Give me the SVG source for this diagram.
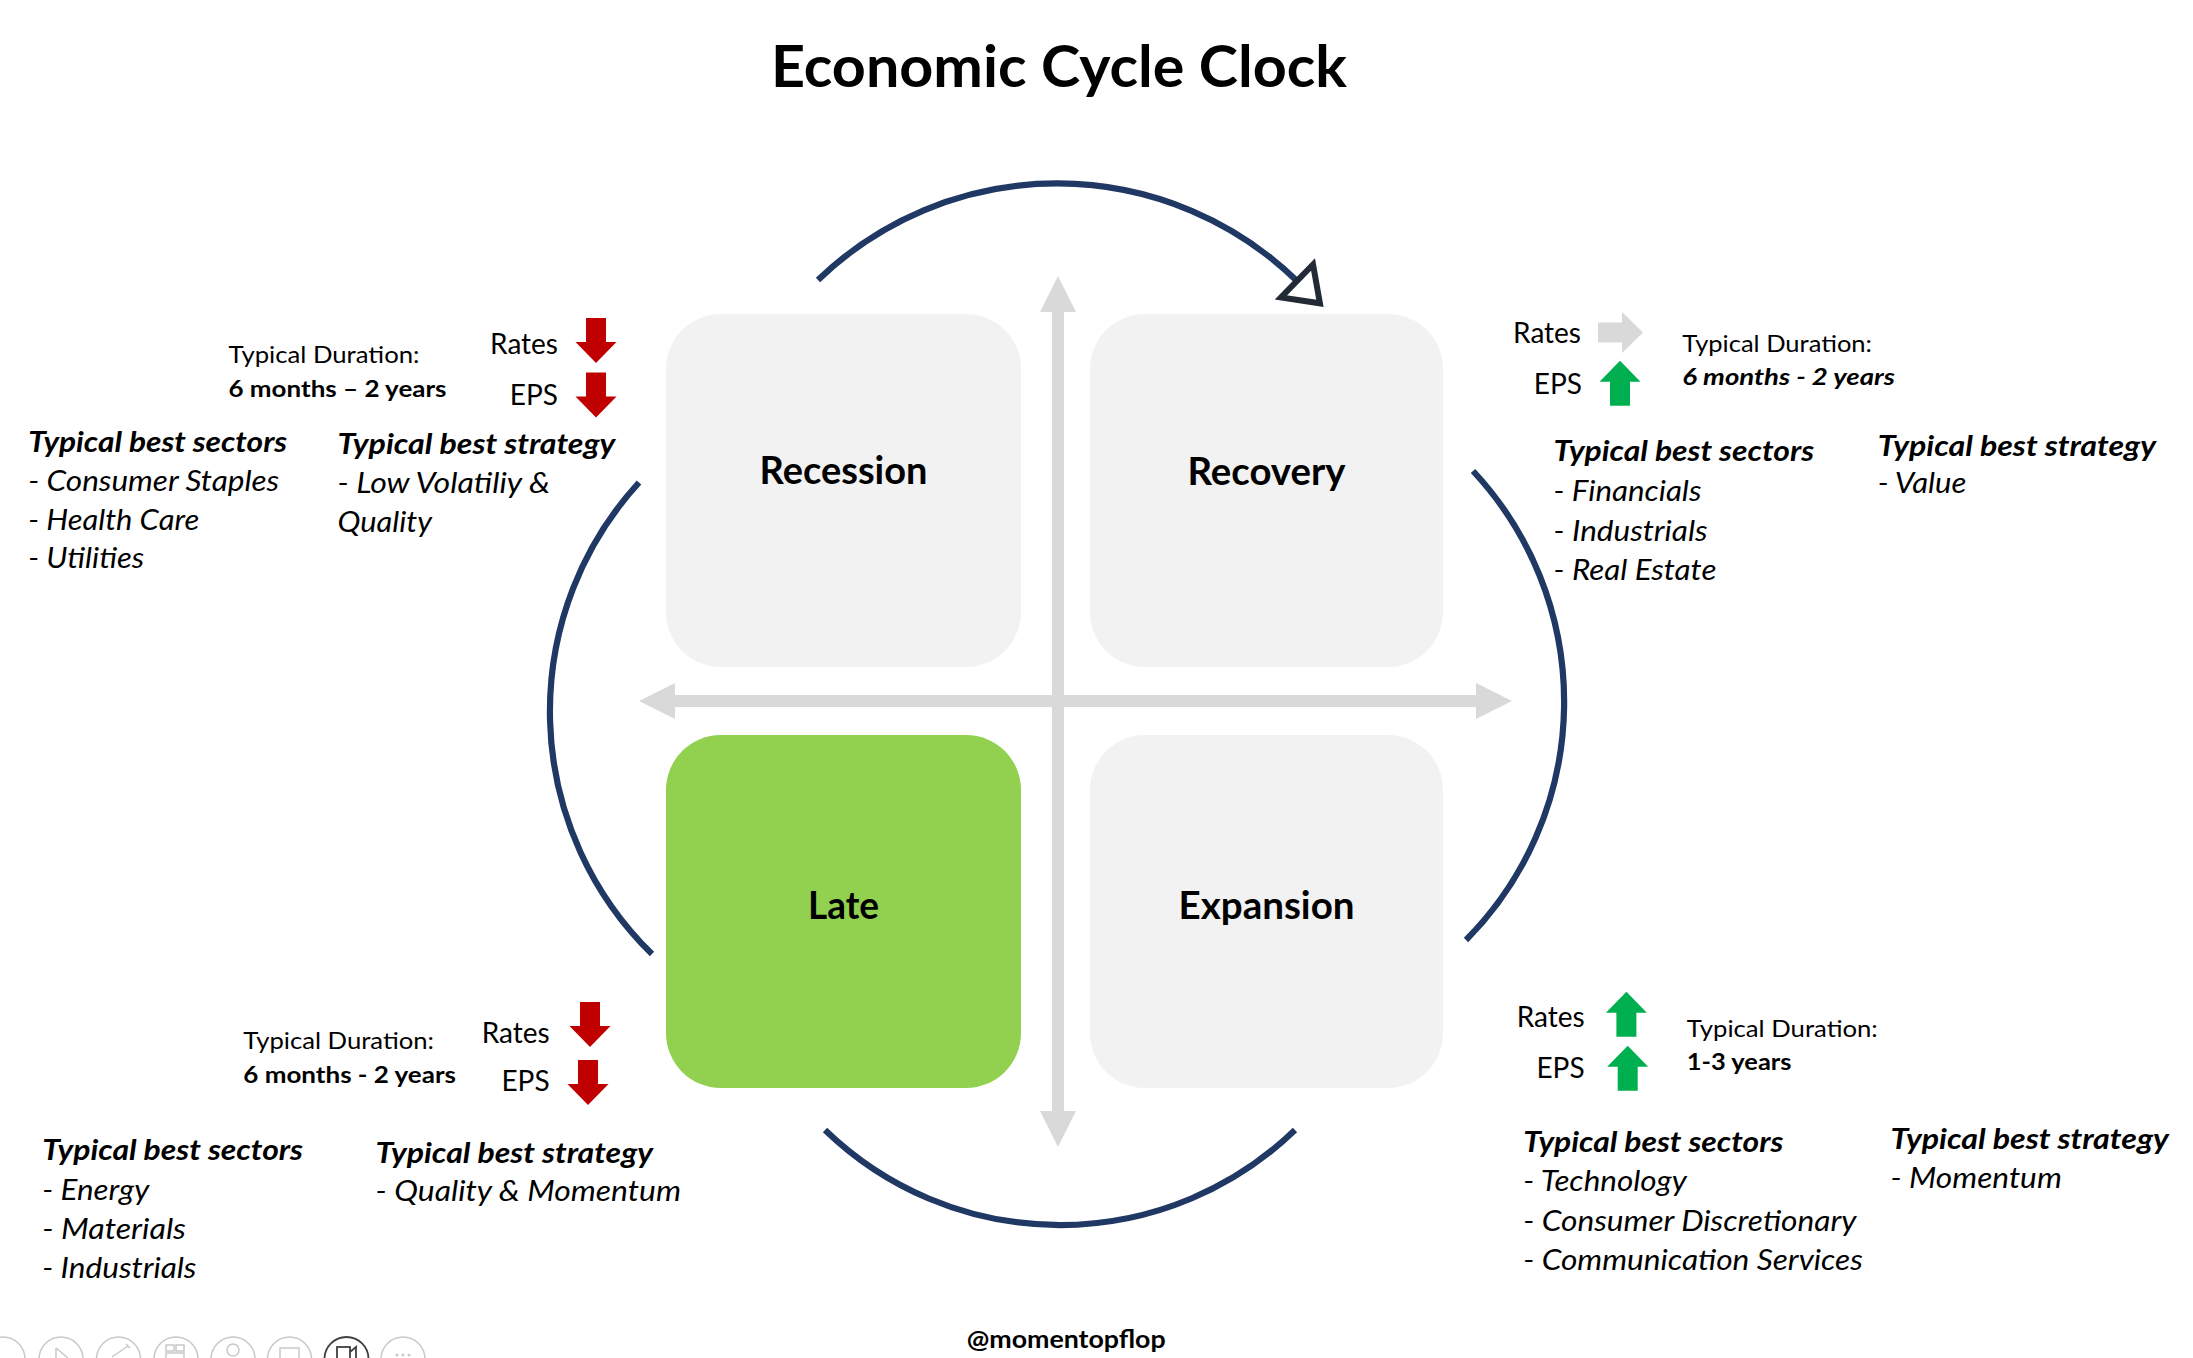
<svg xmlns="http://www.w3.org/2000/svg" xmlns:xlink="http://www.w3.org/1999/xlink" width="2193" height="1358" viewBox="0 0 2193 1358">
<style>
  text { font-family: Lato, "Liberation Sans", sans-serif; fill: #000; }
  .title { font-size: 57px; font-weight: 700; }
  .phase { font-size: 39px; font-weight: 700; text-anchor: middle; }
  .hdr { font-size: 28px; font-weight: 700; font-style: italic; }
  .item { font-size: 28px; font-style: italic; }
  .ind { font-size: 28px; text-anchor: end; }
  .dur { font-size: 23.5px; }
  .durv { font-size: 23.5px; font-weight: 700; }
  .durvi { font-size: 23.5px; font-weight: 700; font-style: italic; }
  .wm { font-size: 25px; font-weight: 700; }
  .box { fill: #F2F2F2; }
  .box.late { fill: #92D050; }
  .arc { fill: none; stroke: #203864; stroke-width: 6.2; }
  .axis { fill: none; stroke: #D9D9D9; stroke-width: 12; }
  .red { fill: #C00000; }
  .green { fill: #00B050; }
  .grey { fill: #D9D9D9; }
  .tb { fill: #FFFFFF; stroke: #C8C8C8; stroke-width: 1.5; }
  .tbi { fill: none; stroke: #C8C8C8; stroke-width: 1.5; }
</style>
<defs>
  <path id="blockArrow" d="M-10,0 H10 V24 H20.5 L0,45 L-20.5,24 H-10 Z"/>
  <marker id="openTri" markerUnits="userSpaceOnUse" viewBox="-10 -40 80 80" markerWidth="80" markerHeight="80" refX="0" refY="0" orient="auto" overflow="visible">
    <path d="M0,-23 L32,0 L0,23 Z" fill="#FFFFFF" stroke="#222A35" stroke-width="6" stroke-linejoin="miter"/>
  </marker>
  <marker id="axisHead" markerUnits="userSpaceOnUse" viewBox="-2 -20 42 40" markerWidth="42" markerHeight="40" refX="0" refY="0" orient="auto-start-reverse" overflow="visible">
    <path d="M-1,-18 L35,0 L-1,18 Z" fill="#D9D9D9"/>
  </marker>
</defs>
<rect x="0" y="0" width="2193" height="1358" fill="#FFFFFF"/>

<text class="title" x="771" y="87" textLength="576" lengthAdjust="spacingAndGlyphs">Economic Cycle Clock</text>

<g id="connectors">
  <path class="axis" d="M1058,311 L1058,1112" marker-start="url(#axisHead)" marker-end="url(#axisHead)"/>
  <path class="axis" d="M674,701 L1477,701" marker-start="url(#axisHead)" marker-end="url(#axisHead)"/>
  <path class="arc" d="M818,280 A344,344 0 0 1 1297,281" marker-end="url(#openTri)"/>
  <path class="arc" d="M1473,471 A338,338 0 0 1 1466,940"/>
  <path class="arc" d="M1295,1130 A338,338 0 0 1 825,1130"/>
  <path class="arc" d="M652,954 A339,339 0 0 1 639,482.5"/>
</g>

<g id="recession">
  <rect class="box" x="666" y="314" width="355" height="353" rx="55" ry="55"/>
  <text class="phase" x="843.5" y="484" textLength="168" lengthAdjust="spacingAndGlyphs">Recession</text>
</g>
<g id="recovery">
  <rect class="box" x="1090" y="314" width="353" height="353" rx="55" ry="55"/>
  <text class="phase" x="1266.5" y="485" textLength="158" lengthAdjust="spacingAndGlyphs">Recovery</text>
</g>
<g id="late">
  <rect class="box late" x="666" y="735" width="355" height="353" rx="55" ry="55"/>
  <text class="phase" x="843.5" y="919" textLength="71" lengthAdjust="spacingAndGlyphs">Late</text>
</g>
<g id="expansion">
  <rect class="box" x="1090" y="735" width="353" height="353" rx="55" ry="55"/>
  <text class="phase" x="1266.5" y="919" textLength="176" lengthAdjust="spacingAndGlyphs">Expansion</text>
</g>

<g id="recession-info">
  <text class="dur" x="228.5" y="363.3" textLength="191" lengthAdjust="spacingAndGlyphs">Typical Duration:</text>
  <text class="durv" x="228.5" y="397.3" textLength="218" lengthAdjust="spacingAndGlyphs">6 months – 2 years</text>
  <text class="ind" x="558" y="354.3">Rates</text>
  <text class="ind" x="558" y="405">EPS</text>
  <use xlink:href="#blockArrow" href="#blockArrow" class="red" transform="translate(596,318)"/>
  <use xlink:href="#blockArrow" href="#blockArrow" class="red" transform="translate(596,372.5)"/>
  <text class="hdr" x="28.2" y="451.7" textLength="259" lengthAdjust="spacingAndGlyphs">Typical best sectors</text>
  <text class="item" x="28.2" y="490.7" textLength="251" lengthAdjust="spacingAndGlyphs">- Consumer Staples</text>
  <text class="item" x="28.2" y="530" textLength="171" lengthAdjust="spacingAndGlyphs">- Health Care</text>
  <text class="item" x="28.2" y="568.3" textLength="116" lengthAdjust="spacingAndGlyphs">- Utilities</text>
  <text class="hdr" x="337.4" y="454" textLength="278" lengthAdjust="spacingAndGlyphs">Typical best strategy</text>
  <text class="item" x="337.4" y="492.7" textLength="212.6" lengthAdjust="spacingAndGlyphs">- Low Volatiliy &amp;</text>
  <text class="item" x="337.4" y="531.7" textLength="94.6" lengthAdjust="spacingAndGlyphs">Quality</text>
</g>

<g id="recovery-info">
  <text class="ind" x="1581" y="343.3">Rates</text>
  <text class="ind" x="1582" y="394">EPS</text>
  <use xlink:href="#blockArrow" href="#blockArrow" class="grey" transform="translate(1598,332.5) rotate(-90)"/>
  <use xlink:href="#blockArrow" href="#blockArrow" class="green" transform="translate(1620,405.7) rotate(180)"/>
  <text class="dur" x="1682.3" y="351.7" textLength="189.7" lengthAdjust="spacingAndGlyphs">Typical Duration:</text>
  <text class="durvi" x="1682.3" y="385" textLength="212.7" lengthAdjust="spacingAndGlyphs">6 months - 2 years</text>
  <text class="hdr" x="1553.6" y="460.7" textLength="260.5" lengthAdjust="spacingAndGlyphs">Typical best sectors</text>
  <text class="item" x="1553.6" y="500.7" textLength="147.8" lengthAdjust="spacingAndGlyphs">- Financials</text>
  <text class="item" x="1553.6" y="540.7" textLength="154" lengthAdjust="spacingAndGlyphs">- Industrials</text>
  <text class="item" x="1553.6" y="580" textLength="162.8" lengthAdjust="spacingAndGlyphs">- Real Estate</text>
  <text class="hdr" x="1877.7" y="456" textLength="278.3" lengthAdjust="spacingAndGlyphs">Typical best strategy</text>
  <text class="item" x="1877.7" y="493.3" textLength="88.7" lengthAdjust="spacingAndGlyphs">- Value</text>
</g>

<g id="late-info">
  <text class="dur" x="243.3" y="1049.3" textLength="190.7" lengthAdjust="spacingAndGlyphs">Typical Duration:</text>
  <text class="durv" x="243.3" y="1083.3" textLength="212.7" lengthAdjust="spacingAndGlyphs">6 months - 2 years</text>
  <text class="ind" x="549.6" y="1042.7">Rates</text>
  <text class="ind" x="549.6" y="1091">EPS</text>
  <use xlink:href="#blockArrow" href="#blockArrow" class="red" transform="translate(590,1002)"/>
  <use xlink:href="#blockArrow" href="#blockArrow" class="red" transform="translate(588,1060)"/>
  <text class="hdr" x="42.2" y="1160" textLength="260.8" lengthAdjust="spacingAndGlyphs">Typical best sectors</text>
  <text class="item" x="42.2" y="1200" textLength="107" lengthAdjust="spacingAndGlyphs">- Energy</text>
  <text class="item" x="42.2" y="1239.3" textLength="143.8" lengthAdjust="spacingAndGlyphs">- Materials</text>
  <text class="item" x="42.2" y="1277.7" textLength="154.3" lengthAdjust="spacingAndGlyphs">- Industrials</text>
  <text class="hdr" x="375.6" y="1162.7" textLength="277.4" lengthAdjust="spacingAndGlyphs">Typical best strategy</text>
  <text class="item" x="375.6" y="1200.7" textLength="305.4" lengthAdjust="spacingAndGlyphs">- Quality &amp; Momentum</text>
</g>

<g id="expansion-info">
  <text class="ind" x="1584.6" y="1027.3">Rates</text>
  <text class="ind" x="1584.6" y="1077.7">EPS</text>
  <use xlink:href="#blockArrow" href="#blockArrow" class="green" transform="translate(1626.4,1036.7) rotate(180)"/>
  <use xlink:href="#blockArrow" href="#blockArrow" class="green" transform="translate(1627.7,1090.7) rotate(180)"/>
  <text class="dur" x="1686.8" y="1036.7" textLength="191" lengthAdjust="spacingAndGlyphs">Typical Duration:</text>
  <text class="durv" x="1686.8" y="1070" textLength="104.6" lengthAdjust="spacingAndGlyphs">1-3 years</text>
  <text class="hdr" x="1523.2" y="1151.7" textLength="260.1" lengthAdjust="spacingAndGlyphs">Typical best sectors</text>
  <text class="item" x="1523.2" y="1190.7" textLength="163.6" lengthAdjust="spacingAndGlyphs">- Technology</text>
  <text class="item" x="1523.2" y="1230.7" textLength="333.2" lengthAdjust="spacingAndGlyphs">- Consumer Discretionary</text>
  <text class="item" x="1523.2" y="1270" textLength="339.7" lengthAdjust="spacingAndGlyphs">- Communication Services</text>
  <text class="hdr" x="1890.5" y="1149.3" textLength="278.4" lengthAdjust="spacingAndGlyphs">Typical best strategy</text>
  <text class="item" x="1890.5" y="1188.3" textLength="171.3" lengthAdjust="spacingAndGlyphs">- Momentum</text>
</g>

<text class="wm" x="966.7" y="1348" textLength="199" lengthAdjust="spacingAndGlyphs">@momentopflop</text>

<g id="toolbar">
  <circle class="tb" cx="3" cy="1359" r="22"/>
  <circle class="tb" cx="61" cy="1359" r="22"/>
  <circle class="tb" cx="118.5" cy="1359" r="22"/>
  <circle class="tb" cx="176" cy="1359" r="22"/>
  <circle class="tb" cx="233" cy="1359" r="22"/>
  <circle class="tb" cx="289.5" cy="1359" r="22"/>
  <circle cx="346.5" cy="1359" r="22" fill="#FFFFFF" stroke="#404040" stroke-width="1.8"/>
  <circle class="tb" cx="403" cy="1359" r="22"/>
  <path class="tbi" d="M56,1348 L68,1358 M56,1348 L56,1358"/>
  <path class="tbi" d="M112,1357 L128,1346 M126,1344 L130,1348"/>
  <rect class="tbi" x="166" y="1345" width="8" height="6"/>
  <rect class="tbi" x="176" y="1345" width="8" height="6"/>
  <rect class="tbi" x="166" y="1353" width="18" height="6"/>
  <circle class="tbi" cx="233" cy="1350" r="6"/>
  <rect class="tbi" x="280" y="1348" width="19" height="12"/>
  <rect x="337" y="1347" width="13" height="12" fill="none" stroke="#404040" stroke-width="1.8"/>
  <path d="M350,1352 L356,1347 V1359" fill="none" stroke="#404040" stroke-width="1.8"/>
  <circle cx="397" cy="1355" r="1.5" fill="#C8C8C8"/>
  <circle cx="403" cy="1355" r="1.5" fill="#C8C8C8"/>
  <circle cx="409" cy="1355" r="1.5" fill="#C8C8C8"/>
</g>
</svg>
